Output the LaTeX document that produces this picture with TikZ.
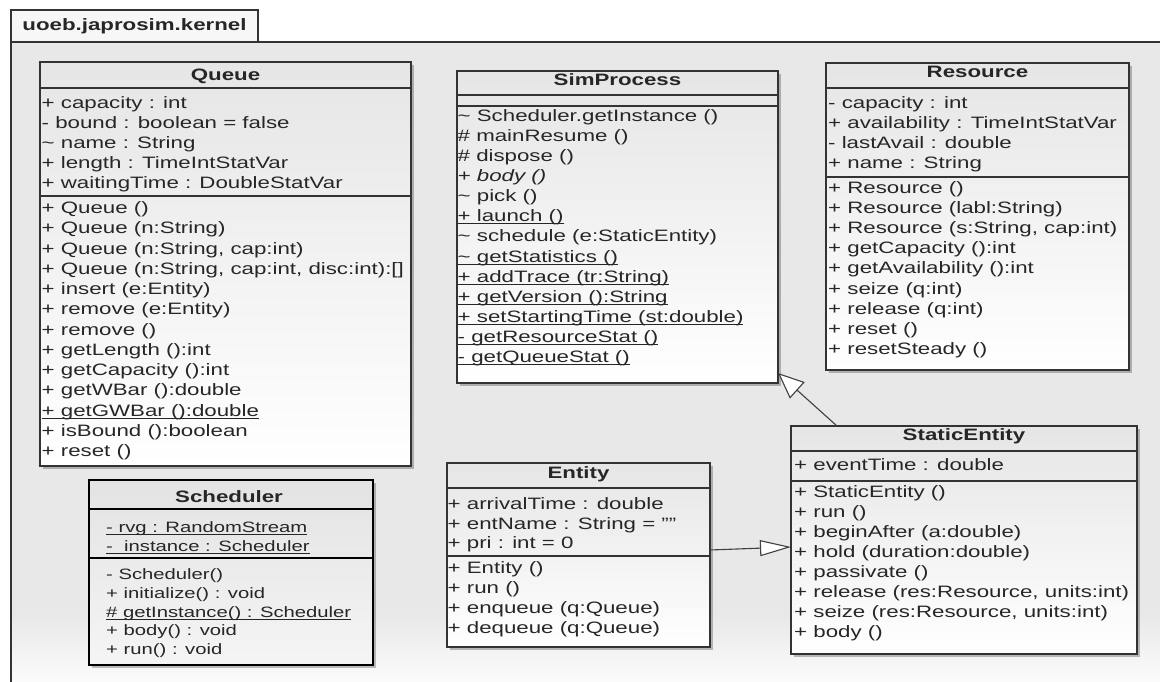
\documentclass[tikz,border=0pt]{standalone}
\usepackage{fontspec}
\setmainfont{Liberation Sans}[FakeStretch=1.35]
\usetikzlibrary{arrows.meta,shadows}

% underline for static members
\newsavebox\ulbox
\newcommand\ul[1]{\sbox\ulbox{#1}\rlap{\rule[-2.6pt]{\wd\ulbox}{1.1pt}}\usebox\ulbox}
\newcommand\tld{\textasciitilde\ }
\newcommand\umlfont{\fontsize{16.5}{20}\selectfont}
\newcommand\smallumlfont{\fontsize{15}{18}\selectfont}

% one node per member line: prefix, x, first y, step, list
\newcommand\members[5]{\foreach \txt [count=\k] in {#5} {\node[member] (#1-\k) at (#2,{#3+(\k-1)*#4}) {\txt};}}

\pgfdeclareverticalshading{pkgfill}{100bp}{color(0bp)=(white); color(27bp)=(white); color(33bp)=(black!9); color(100bp)=(black!9)}

\begin{document}
\begin{tikzpicture}[x=1pt,y=-1pt,
  font=\umlfont, text=black!85,
  box/.style={draw=black!80, line width=1.3pt, anchor=north west, inner sep=0pt, outer sep=0pt,
    top color=black!10, bottom color=white,
    drop shadow={shadow xshift=3pt, shadow yshift=-3pt, opacity=0.25, fill=black}},
  sep/.style={draw=black!80, line width=1.3pt},
  member/.style={anchor=base west, inner sep=0pt, yshift=-5.5pt},
  title/.style={anchor=base, inner sep=0pt, yshift=-5.5pt, font=\umlfont\bfseries},
  gen/.style={draw=black!75, line width=1.1pt},
]
\path[use as bounding box] (0,0) rectangle (1160,682);
\clip (0,0) rectangle (1160,682);
\fill[white] (0,0) rectangle (1160,682);

% package frame
\node[draw=black!80, line width=1.4pt, anchor=north west, inner sep=0pt, outer sep=0pt,
  minimum width=1180pt, minimum height=680pt, shading=pkgfill] (pkg) at (11,42) {};
\node[draw=black!80, line width=1.4pt, anchor=north west, inner sep=0pt, outer sep=0pt,
  minimum width=247pt, minimum height=32pt, fill=black!3,
  font=\umlfont\bfseries] (tab) at (11,10) {uoeb.japrosim.kernel};

% Queue
\node[box, minimum width=371pt, minimum height=404pt] (queue) at (40,62) {};
\draw[sep] (40,88) -- (411,88);
\draw[sep] (40,196) -- (411,196);
\node[title] (queue-t) at (225.5,75) {Queue};
\members{qa}{41.5}{103}{20}{{+ capacity : int},{- bound : boolean = false},{\tld name : String},{+ length : TimeIntStatVar},{+ waitingTime : DoubleStatVar}}
\members{qm}{41.5}{208}{20.25}{{+ Queue ()},{+ Queue (n:String)},{+ Queue (n:String, cap:int)},{+ Queue (n:String, cap:int, disc:int):[]},{+ insert (e:Entity)},{+ remove (e:Entity)},{+ remove ()},{+ getLength ():int},{+ getCapacity ():int},{+ getWBar ():double},{\ul{+ getGWBar ():double}},{+ isBound ():boolean},{+ reset ()}}

% SimProcess
\node[box, minimum width=321pt, minimum height=312pt] (sim) at (457,71) {};
\draw[sep] (457,95) -- (778,95);
\draw[sep] (457,106) -- (778,106);
\node[title] (sim-t) at (617.5,80) {SimProcess};
\members{sm}{457.5}{116}{20.08}{{\tld Scheduler.getInstance ()},{\# mainResume ()},{\# dispose ()},{\textit{+ body ()}},{\tld pick ()},{\ul{+ launch ()}},{\tld schedule (e:StaticEntity)},{\ul{\tld getStatistics ()}},{\ul{+ addTrace (tr:String)}},{\ul{+ getVersion ():String}},{\ul{+ setStartingTime (st:double)}},{\ul{- getResourceStat ()}},{\ul{- getQueueStat ()}}}

% Resource
\node[box, minimum width=303pt, minimum height=307pt] (res) at (826,63) {};
\draw[sep] (826,88) -- (1129,88);
\draw[sep] (826,177) -- (1129,177);
\node[title] (res-t) at (977.5,72) {Resource};
\members{ra}{828}{103}{20}{{- capacity : int},{+ availability : TimeIntStatVar},{- lastAvail : double},{+ name : String}}
\members{rm}{828}{188}{20.1}{{+ Resource ()},{+ Resource (labl:String)},{+ Resource (s:String, cap:int)},{+ getCapacity ():int},{+ getAvailability ():int},{+ seize (q:int)},{+ release (q:int)},{+ reset ()},{+ resetSteady ()}}

% Scheduler
\node[box, draw=black, line width=2.6pt, top color=black!11, bottom color=black!4,
  minimum width=284pt, minimum height=185pt] (sched) at (89,480) {};
\draw[sep, draw=black, line width=1.5pt] (89,509) -- (373,509);
\draw[sep, draw=black, line width=1.5pt] (89,558) -- (373,558);
\node[title] (sched-t) at (229,497) {Scheduler};
\begin{scope}[font=\smallumlfont]
\members{ca}{106}{527}{18.5}{{\ul{- rvg : RandomStream}},{\ul{-\ \ instance : Scheduler}}}
\members{cm}{106}{574}{18.75}{{- Scheduler()},{+ initialize() : void},{\ul{\# getInstance() : Scheduler}},{+ body() : void},{+ run() : void}}
\end{scope}

% Entity
\node[box, minimum width=263pt, minimum height=184pt] (entity) at (447,463) {};
\draw[sep] (447,488) -- (710,488);
\draw[sep] (447,556) -- (710,556);
\node[title] (entity-t) at (578.5,473) {Entity};
\members{ea}{447.5}{504}{19.5}{{+ arrivalTime : double},{+ entName : String = ""},{+ pri : int = 0}}
\members{em}{447.5}{568}{20}{{+ Entity ()},{+ run ()},{+ enqueue (q:Queue)},{+ dequeue (q:Queue)}}

% StaticEntity
\node[box, minimum width=346pt, minimum height=228pt] (static) at (791,426) {};
\draw[sep] (791,451) -- (1137,451);
\draw[sep] (791,481) -- (1137,481);
\node[title] (static-t) at (964,435) {StaticEntity};
\members{ta}{794}{465}{20}{{+ eventTime : double}}
\members{tm}{794}{492}{20}{{+ StaticEntity ()},{+ run ()},{+ beginAfter (a:double)},{+ hold (duration:double)},{+ passivate ()},{+ release (res:Resource, units:int)},{+ seize (res:Resource, units:int)},{+ body ()}}

% generalisations
\draw[gen, -{Triangle[open, length=31pt, width=16pt, fill=white]}]
  ([yshift=5pt]entity.east) -- ([yshift=-7pt]static.west);
\draw[gen, -{Triangle[open, length=26pt, width=22pt, fill=white]}]
  ([xshift=46pt]static.north west) -- ([yshift=10pt]sim.south east);
\end{tikzpicture}
\end{document}
